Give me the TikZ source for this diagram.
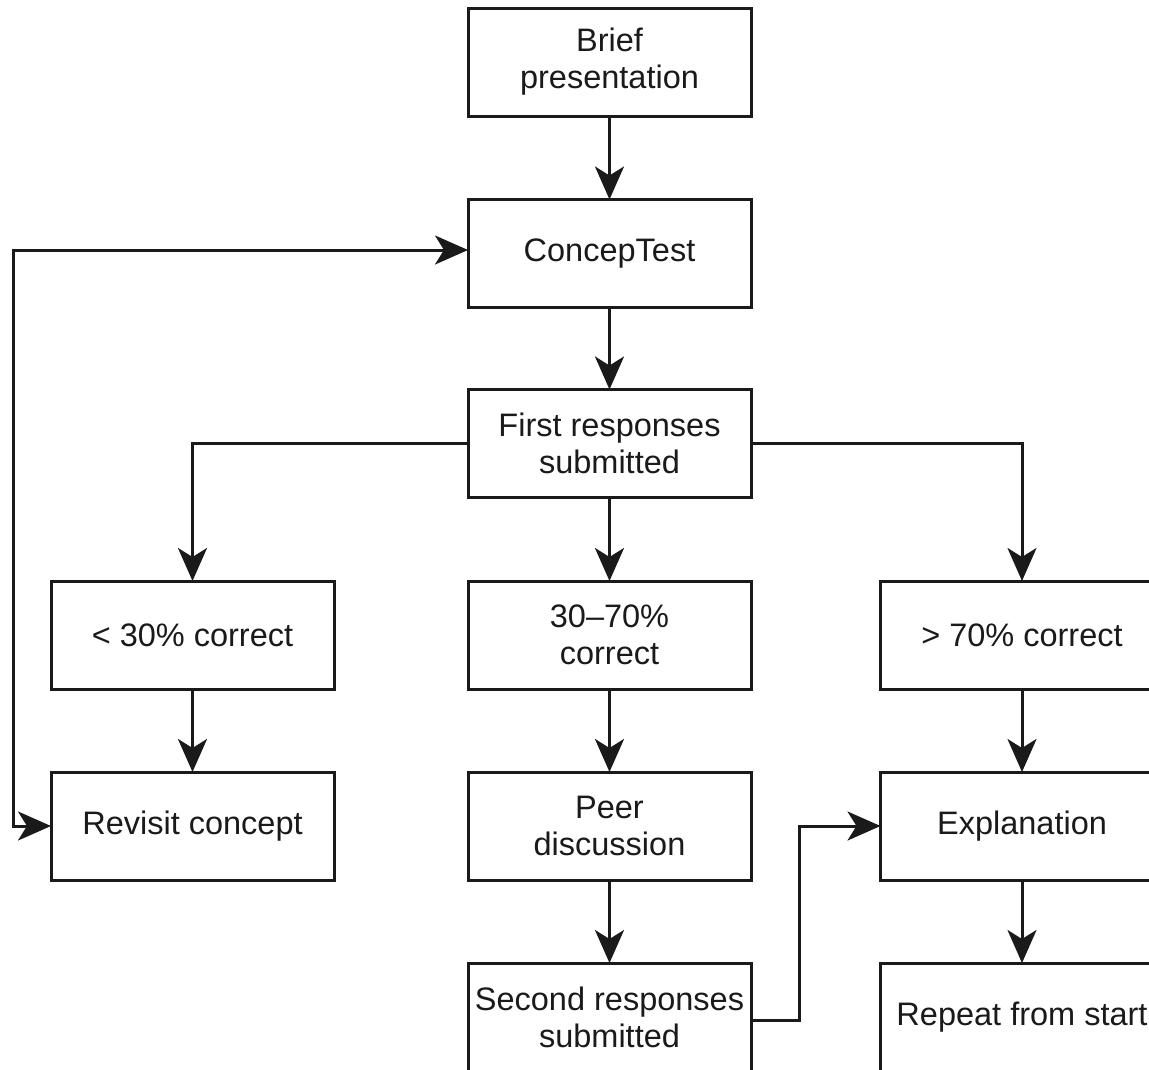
\documentclass[tikz,border=0pt]{standalone}
\usepackage{fontspec}
\setmainfont{Liberation Sans}
\usetikzlibrary{arrows.meta}
\definecolor{ink}{HTML}{1A1A1A}
\begin{document}
\begin{tikzpicture}[x=1pt,y=-1pt,
  box/.style={draw=ink, line width=3pt, minimum width=283pt, minimum height=108pt,
    inner sep=0pt, outer sep=0pt, align=center, text=ink,
    font=\fontsize{32.5}{37}\selectfont},
  flow/.style={draw=ink, line width=3pt, -{Stealth[length=33pt,width=29pt,inset=9pt]}},
  flow2/.style={draw=ink, line width=3pt, {Stealth[length=33pt,width=29pt,inset=9pt]}-{Stealth[length=33pt,width=29pt,inset=9pt]}}]
\useasboundingbox (0,0) rectangle (1149,1069);
\clip (0,0) rectangle (1149,1069);
\fill[white] (0,0) rectangle (1149,1069);
\node[box] (brief) at (609.5,62) {Brief\\presentation};
\node[box] (concep) at (609.5,253.5) {ConcepTest};
\node[box] (first) at (609.5,443.5) {First responses\\submitted};
\node[box] (low) at (192.5,635) {< 30\% correct};
\node[box] (mid) at (609.5,635) {30–70\%\\correct};
\node[box] (high) at (1022,635) {> 70\% correct};
\node[box] (revisit) at (192.5,826) {Revisit concept};
\node[box] (peer) at (609.5,826) {Peer\\discussion};
\node[box] (expl) at (1022,826) {Explanation};
\node[box] (second) at (609.5,1017) {Second responses\\submitted};
\node[box] (repeat) at (1022,1017) {Repeat from start};
\coordinate (loopTop) at (13,250);
\coordinate (loopBot) at (13,826);
\coordinate (jog) at (799,1020);
\draw[flow] (brief) -- (concep);
\draw[flow] (concep) -- (first);
\draw[flow] (first) -- (mid);
\draw[flow] (first.west) -| (low.north);
\draw[flow] (first.east) -| (high.north);
\draw[flow] (low) -- (revisit);
\draw[flow] (mid) -- (peer);
\draw[flow] (high) -- (expl);
\draw[flow] (peer) -- (second);
\draw[flow] (expl) -- (repeat);
\draw[flow2] (revisit.west) -- (loopBot) -- (loopTop) -- (loopTop -| concep.west);
\draw[flow] (second.east |- jog) -- (jog) |- (expl.west);
\end{tikzpicture}
\end{document}
